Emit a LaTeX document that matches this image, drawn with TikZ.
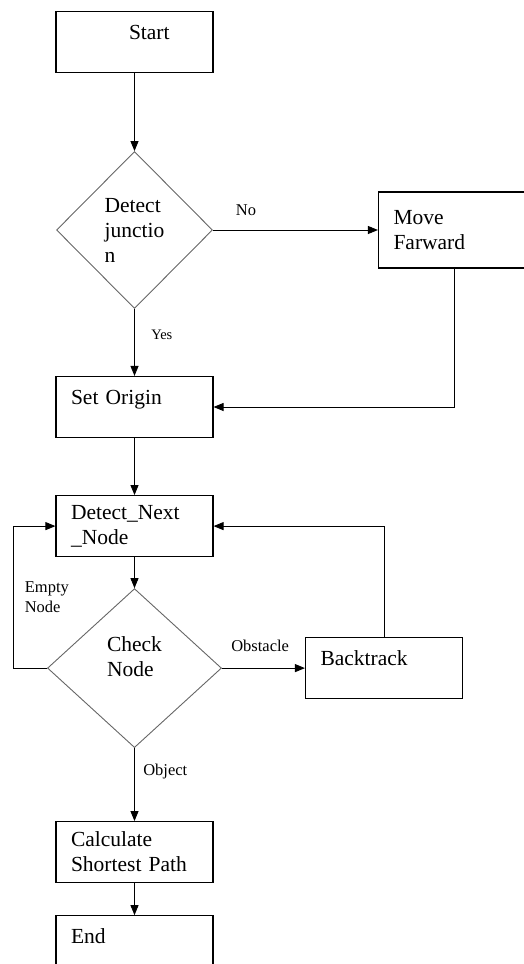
\documentclass[tikz,border=0pt]{standalone}
\usepackage{fontspec}
\setmainfont{Liberation Serif}
\usetikzlibrary{positioning,arrows.meta,shapes.geometric}

\begin{document}
\begin{tikzpicture}[x=1pt, y=1pt, font=\fontsize{21.5}{25}\selectfont,
  box/.style={draw, line width=1.1pt, rectangle, minimum width=157pt, minimum height=61pt,
    text width=127pt, inner xsep=15pt, align=left},
  topline/.style={text depth=20pt},
  decision/.style={draw=black!60, line width=0.9pt, diamond, aspect=1, inner sep=1pt, align=left},
  lbl/.style={font=\fontsize{16.5}{20}\selectfont},
  arr/.style={-{Triangle[length=10pt,width=8pt]}, line width=0.9pt}]
  \useasboundingbox (0,0) rectangle (524,-964);

  \node[box,topline] (start) at (134.5,-42) {\hspace*{58pt}Start};
  \node[decision, minimum width=156pt, minimum height=157pt] (detect) [below=78pt of start] {Detect\\junctio\\n};
  \node[box, minimum width=152pt, minimum height=76pt, text width=122pt] (move) [right=165pt of detect] {Move\\Farward};
  \node[box,topline] (origin) [below=67pt of detect] {Set Origin};
  \node[box] (next) [below=57pt of origin] {Detect\_Next\\\_Node};
  \node[decision, minimum width=174pt, minimum height=159pt, text depth=24pt] (check) [below=31pt of next] {Check\\Node};
  \node[box,topline] (back) [right=83pt of check] {Backtrack};
  \node[box] (calc) [below=73pt of check] {Calculate\\Shortest Path};
  \node[box,topline] (end) [below=32pt of calc] {End};

  \draw[arr] (start) -- (detect);
  \draw[arr] (detect) -- node[lbl, above=11pt, pos=0.2] {No} (move);
  \draw[arr] (detect) -- node[lbl, right=13pt, pos=0.39, font=\fontsize{14.5}{17}\selectfont] {Yes} (origin);
  \draw[arr] (move.south) |- (origin.east);
  \draw[arr] (origin) -- (next);
  \draw[arr] (next) -- (check);
  \draw[arr] (check.west) -- ++(-34,0) |- node[lbl, right=8pt, pos=0.25, align=left] {Empty\\Node} (next.west);
  \draw[arr] (check) -- node[lbl, above=13pt, pos=0.46] {Obstacle} (back);
  \draw[arr] (back.north) |- (next.east);
  \draw[arr] (check) -- node[lbl, right=5pt, pos=0.32] {Object} (calc);
  \draw[arr] (calc) -- (end);
\end{tikzpicture}
\end{document}
